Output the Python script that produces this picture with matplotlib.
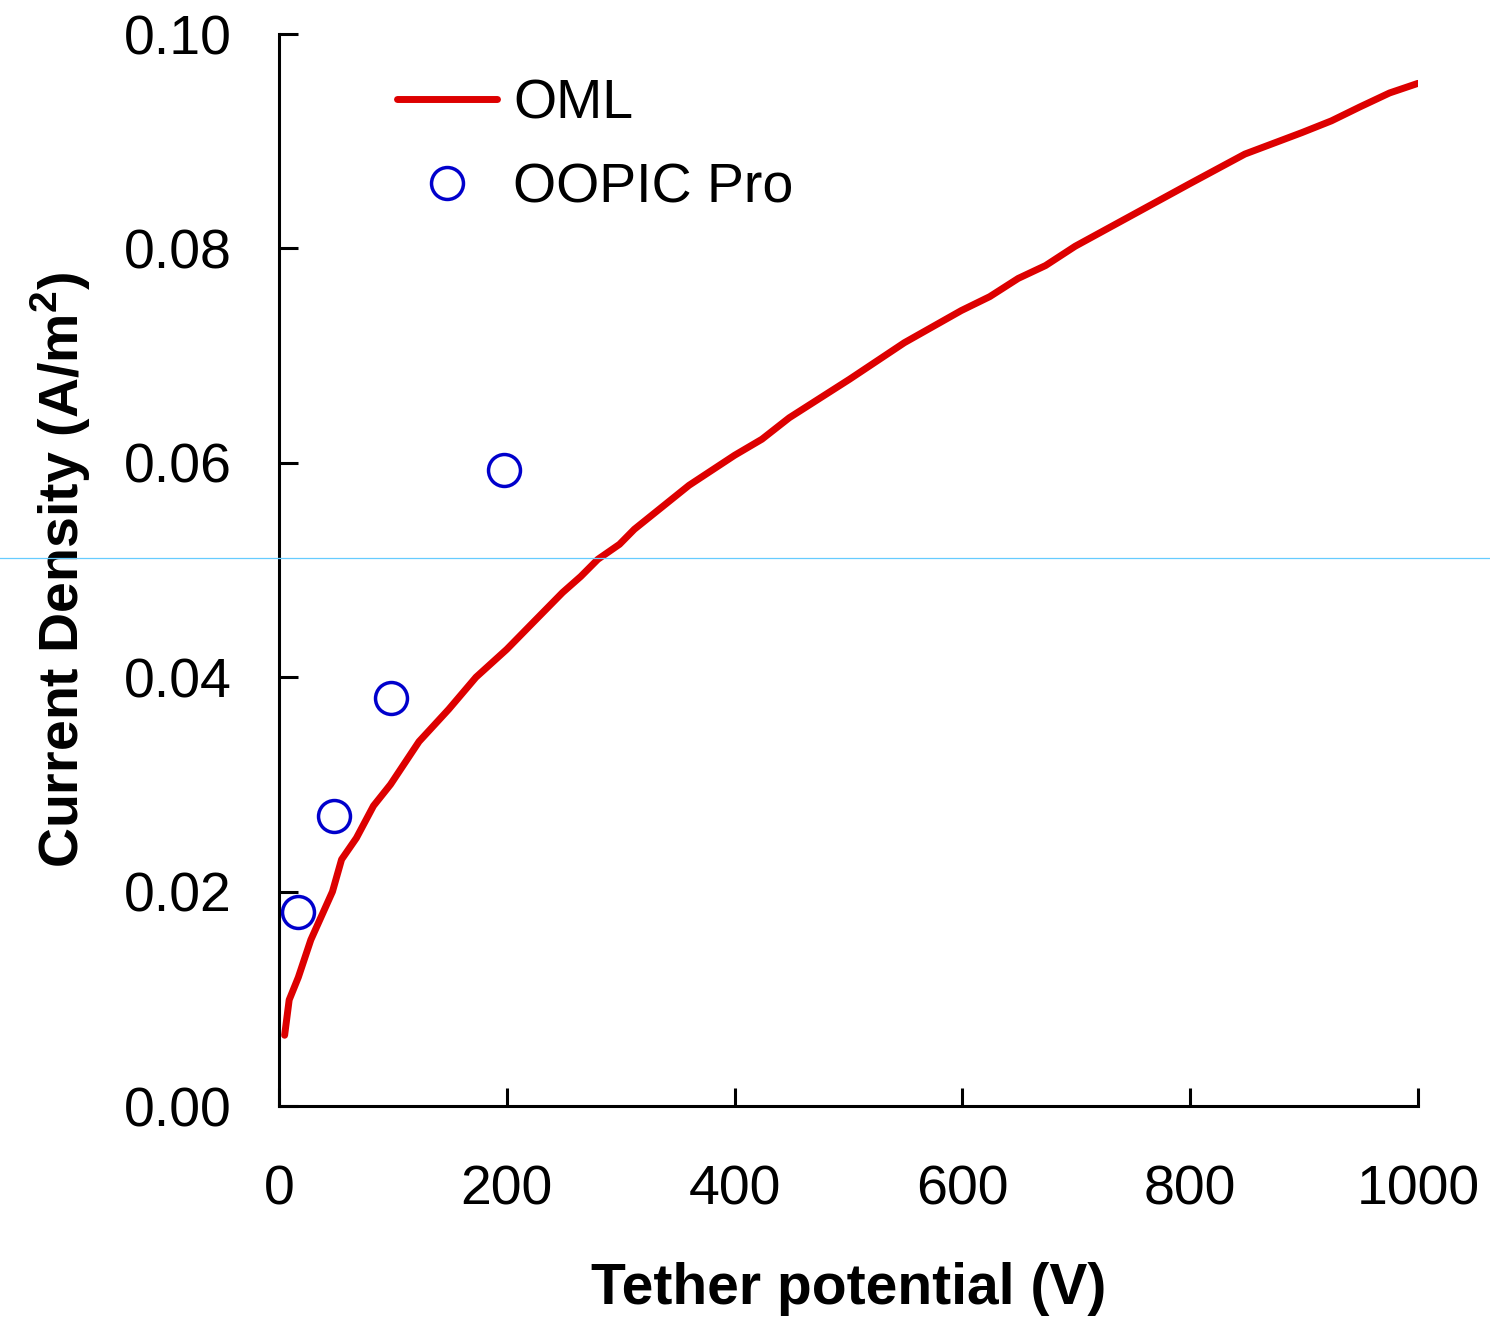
import matplotlib
matplotlib.use("Agg")
import matplotlib.pyplot as plt
from matplotlib.lines import Line2D

# OML curve
oml_v = [5, 9, 17, 28, 47, 55, 68, 83, 98, 123, 149, 173, 200, 224, 249, 265, 280,
         299, 312, 360, 400, 424, 448, 501, 549, 599, 624, 649, 673, 699, 749, 799,
         848, 898, 924, 949, 975, 1000]
oml_j = [0.0066, 0.0099, 0.0120, 0.0155, 0.0200, 0.0230, 0.0250, 0.0280, 0.0300,
         0.0340, 0.0370, 0.0400, 0.0426, 0.0452, 0.0479, 0.0494, 0.0510, 0.0524,
         0.0538, 0.0579, 0.0607, 0.0622, 0.0642, 0.0678, 0.0712, 0.0742, 0.0755,
         0.0772, 0.0784, 0.0802, 0.0831, 0.0860, 0.0888, 0.0908, 0.0919, 0.0932,
         0.0945, 0.0954]

# OOPIC Pro simulation points
pic_v = [17, 48, 98, 198]
pic_j = [0.0181, 0.0271, 0.0381, 0.0593]

plt.rcParams['font.family'] = ['Liberation Sans', 'DejaVu Sans']
plt.rcParams['mathtext.fontset'] = 'custom'
plt.rcParams['mathtext.rm'] = 'Liberation Sans'
plt.rcParams['mathtext.bf'] = 'Liberation Sans:bold'

fig = plt.figure(figsize=(14.9, 13.23), dpi=100)
ax = fig.add_axes([0.1872, 0.164, 0.7645, 0.8103])

ax.plot(oml_v, oml_j, color='#DD0000', lw=5, label='OML', solid_capstyle='round')
ax.plot(pic_v, pic_j, 'o', ms=23, mfc='none', mec='#0000CC', mew=2.5, label='OOPIC Pro')

ax.set_xlim(0, 1000)
ax.set_ylim(0, 0.10)
ax.set_xticks([0, 200, 400, 600, 800, 1000])
ax.set_yticks([0, 0.02, 0.04, 0.06, 0.08, 0.10])
ax.set_yticklabels(['0.00', '0.02', '0.04', '0.06', '0.08', '0.10'])

ax.spines['top'].set_visible(False)
ax.spines['right'].set_visible(False)
for s in ['left', 'bottom']:
    ax.spines[s].set_linewidth(2.2)
ax.tick_params(axis='x', direction='in', length=13, width=2.2, labelsize=40, pad=42)
ax.tick_params(axis='y', direction='in', length=14, width=2.2, labelsize=40, pad=34)

ax.set_xlabel('Tether potential (V)', fontsize=41, fontweight='bold', labelpad=33)
ax.set_ylabel(r'Current Density (A/m$^\mathbf{2}$)', fontsize=40, fontweight='bold', labelpad=22)

ax.legend(loc='upper left', bbox_to_anchor=(0.074, 0.99), frameon=False, fontsize=40,
          handlelength=1.8, handletextpad=0.3, labelspacing=0.58, borderaxespad=0.2)

# thin cyan rule across the whole image
fig.add_artist(Line2D([0, 1], [0.5782, 0.5782], transform=fig.transFigure,
                      color='#66CCFF', lw=0.9))

fig.savefig('out.png', dpi=100)
